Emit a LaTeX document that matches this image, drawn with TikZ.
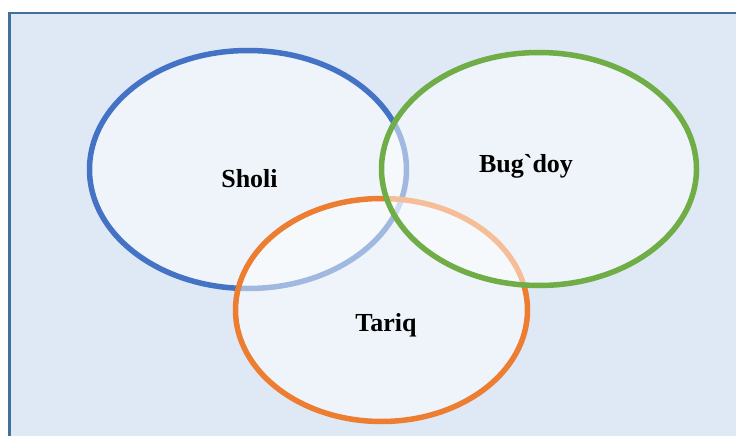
\documentclass[tikz,border=0pt]{standalone}
\usepackage{fontspec}
\setmainfont{Liberation Serif}[Ligatures=TeXOff]
\usetikzlibrary{shapes.geometric}
\definecolor{bgblue}{RGB}{222,233,245}
\definecolor{framec}{RGB}{65,113,156}
\definecolor{cblue}{RGB}{68,114,196}
\definecolor{corange}{RGB}{237,125,49}
\definecolor{cgreen}{RGB}{112,173,71}
\tikzset{
  setring/.style={ellipse, inner sep=0pt, outer sep=0pt, line width=5.5pt, fill=white, fill opacity=0.5},
  setlabel/.style={font=\fontsize{26}{30}\selectfont\bfseries, inner sep=0pt, anchor=base}
}
\begin{document}
\begin{tikzpicture}[x=1pt,y=-1pt]
\useasboundingbox (0,0) rectangle (736,436);
\fill[white] (0,0) rectangle (736,436);
\draw[framec, line width=2.5pt, fill=bgblue] (9.5,13) rectangle (745,445);
\node[setring, draw=cblue, minimum width=317pt, minimum height=238pt] (sholi) at (248,169.5) {};
\node[setring, draw=corange, minimum width=292pt, minimum height=223pt] (tariq) at (381.5,310) {};
\node[setring, draw=cgreen, minimum width=315pt, minimum height=233pt] (bugdoy) at (539,169) {};
\node[setlabel] (lsholi) at (249.5,187) {Sholi};
\node[setlabel] (lbugdoy) at (526,172) {Bug`doy};
\node[setlabel] (ltariq) at (386,331) {Tariq};
\end{tikzpicture}
\end{document}
